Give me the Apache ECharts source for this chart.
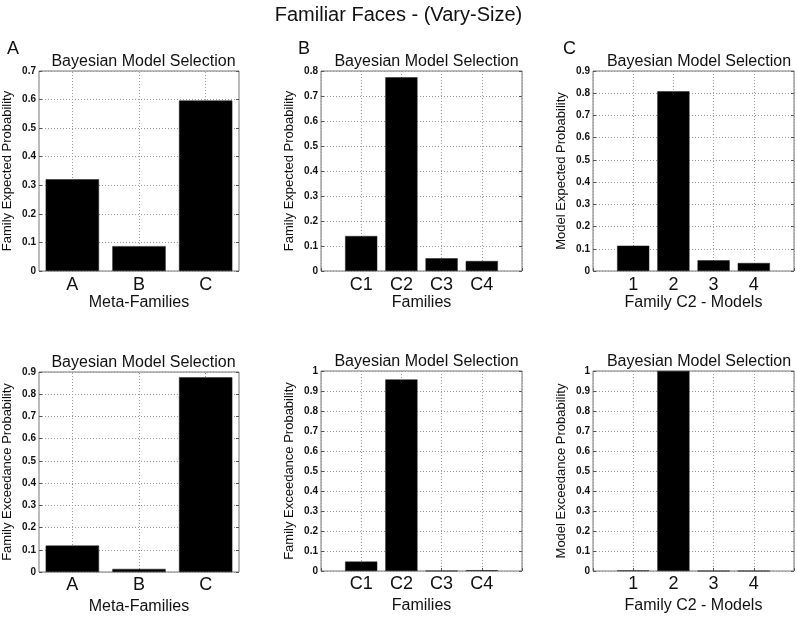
<!DOCTYPE html>
<html>
<head>
<meta charset="utf-8">
<script src="https://cdn.jsdelivr.net/npm/echarts@6/dist/echarts.min.js"></script>
<style>html,body{margin:0;padding:0;background:#fff}#c{width:797px;height:619px}</style>
</head>
<body>
<div id="c"></div>
<script>
// ---- data ----
const metaFamilies = ['A', 'B', 'C'];
const families = ['C1', 'C2', 'C3', 'C4'];
const models = ['1', '2', '3', '4'];
const metaExpected = [0.321, 0.087, 0.597];
const famExpected = [0.140, 0.775, 0.051, 0.040];
const modelExpected = [0.114, 0.809, 0.048, 0.036];
const metaExceed = [0.119, 0.014, 0.876];
const famExceed = [0.047, 0.958, 0.0005, 0.004];
const modelExceed = [0.003, 1.0, 0, 0];
const yMax = [0.7, 0.8, 0.9, 0.9, 1, 1];
const yNames = ['Family Expected Probability', 'Family Expected Probability', 'Model Expected Probability',
  'Family Exceedance Probability', 'Family Exceedance Probability', 'Model Exceedance Probability'];
const xNames = ['Meta-Families', 'Families', 'Family C2 - Models', 'Meta-Families', 'Families', 'Family C2 - Models'];
const panelCats = [metaFamilies, families, models, metaFamilies, families, models];
const panelVals = [metaExpected, famExpected, modelExpected, metaExceed, famExceed, modelExceed];
const panelLetters = ['A', 'B', 'C'];
const subTitle = 'Bayesian Model Selection';
const mainTitle = 'Familiar Faces - (Vary-Size)';

// ---- layout ----
const grids = [
  {left: 38, top: 71, width: 201, height: 200},
  {left: 321, top: 71, width: 201, height: 200},
  {left: 593, top: 71, width: 202, height: 200},
  {left: 38, top: 372, width: 201, height: 200},
  {left: 321, top: 371, width: 201, height: 200},
  {left: 593, top: 371, width: 202, height: 200}
];
const FONT = 'Liberation Sans, Arial, sans-serif';
const dotted = {type: [1, 2], color: '#9a9a9a', width: 1};

const option = {
  backgroundColor: '#fff',
  animation: false,
  title: [],
  grid: [],
  xAxis: [],
  yAxis: [],
  series: []
};

option.title.push({text: mainTitle, left: 'center', top: 0,
  textStyle: {fontFamily: FONT, fontSize: 20, fontWeight: 'normal', color: '#111'}});
const letterX = [2, 293, 558];
panelLetters.forEach((l, i) => option.title.push({text: l, left: letterX[i], top: 35,
  textStyle: {fontFamily: FONT, fontSize: 18, fontWeight: 'normal', color: '#111'}}));

grids.forEach((g, i) => {
  const cats = panelCats[i];
  const vals = panelVals[i];
  const isCat = cats.length === 3;
  const nameGap = i < 3 ? 24 : 27;
  option.grid.push({left: g.left, top: g.top, width: g.width, height: g.height,
    show: true, borderColor: '#777', borderWidth: 1, backgroundColor: '#fff'});
  option.title.push({text: subTitle, left: g.left + g.width / 2, textAlign: 'center', top: g.top - 22,
    textStyle: {fontFamily: FONT, fontSize: 16, fontWeight: 'normal', color: '#111'}});
  const labelStyle = {fontFamily: FONT, fontSize: 18, color: '#111', margin: i < 3 ? 5 : 4};
  const nameStyle = {fontFamily: FONT, fontSize: 16, color: '#111'};
  if (isCat) {
    option.xAxis.push({gridIndex: i, type: 'category', data: cats, boundaryGap: true,
      name: xNames[i], nameLocation: 'middle', nameGap: nameGap, nameTextStyle: nameStyle,
      axisLine: {show: false}, axisTick: {show: true, inside: true, alignWithLabel: true, length: 3, lineStyle: {color: '#555'}},
      axisLabel: labelStyle, splitLine: {show: false}});
  } else {
    option.xAxis.push({gridIndex: i, type: 'value', min: 0, max: cats.length + 1, interval: 1,
      name: xNames[i], nameLocation: 'middle', nameGap: nameGap, nameTextStyle: nameStyle,
      axisLine: {show: false}, axisTick: {show: true, inside: true, length: 3, lineStyle: {color: '#555'}},
      axisLabel: Object.assign({}, labelStyle, {formatter: v => cats[v - 1] || '', showMinLabel: true, showMaxLabel: true}),
      splitLine: {show: true, lineStyle: dotted}});
  }
  option.yAxis.push({gridIndex: i, type: 'value', min: 0, max: yMax[i], interval: 0.1,
    name: yNames[i], nameLocation: 'middle', nameGap: 25, nameRotate: 90,
    nameTextStyle: {fontFamily: FONT, fontSize: 13, color: '#111'},
    axisLine: {show: false}, axisTick: {show: true, inside: true, length: 3, lineStyle: {color: '#555'}},
    axisLabel: {fontFamily: FONT, fontSize: 10, fontWeight: 'bold', color: '#111', margin: 3},
    splitLine: {show: true, lineStyle: dotted}});
  option.yAxis.push({gridIndex: i, type: 'value', position: 'right', min: 0, max: yMax[i], interval: 0.1,
    axisLine: {show: false}, axisTick: {show: true, inside: true, length: 3, lineStyle: {color: '#555'}},
    axisLabel: {show: false}, splitLine: {show: false}});
  const s = {
    type: 'bar', xAxisIndex: i, yAxisIndex: i * 2, barWidth: '80%',
    data: isCat ? vals : vals.map((v, k) => [k + 1, v]),
    itemStyle: {color: '#000', borderColor: '#222', borderWidth: 0.5},
    silent: true
  };
  if (isCat) {
    s.markLine = {silent: true, symbol: 'none', z: 1, label: {show: false}, lineStyle: dotted,
      data: cats.map(c => ({xAxis: c}))};
  }
  option.series.push(s);
});

const chart = echarts.init(document.getElementById('c'), null, {renderer: 'canvas'});
chart.setOption(option);
</script>
</body>
</html>
